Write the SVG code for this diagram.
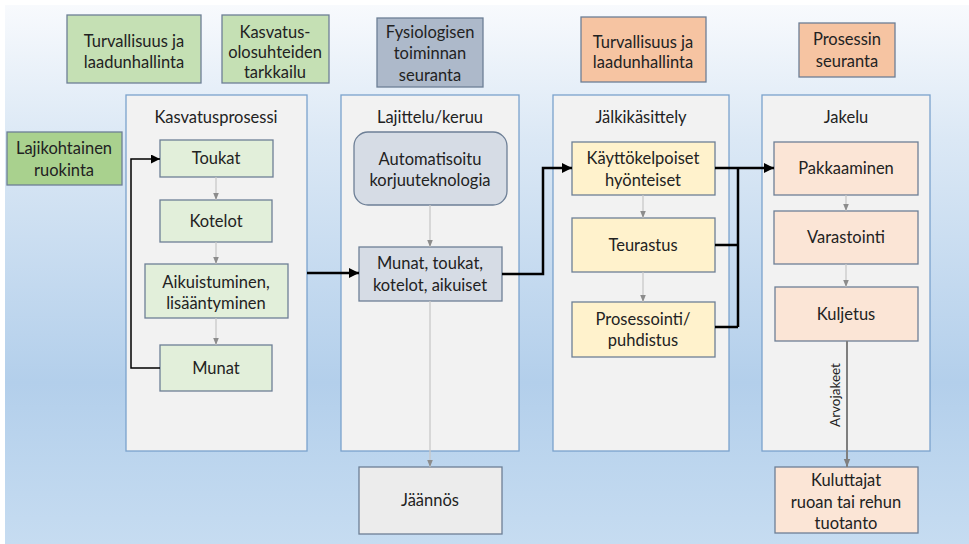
<svg xmlns="http://www.w3.org/2000/svg" width="969" height="544" viewBox="0 0 969 544">
<defs>
<linearGradient id="bg" x1="0" y1="0" x2="0" y2="1">
<stop offset="0" stop-color="#f8fafd"/>
<stop offset="0.25" stop-color="#dbe8f5"/>
<stop offset="0.7" stop-color="#b3cfeb"/>
<stop offset="1" stop-color="#c6dcf1"/>
</linearGradient>
<marker id="ab" viewBox="0 0 10 10" refX="10" refY="5" markerWidth="4" markerHeight="4" orient="auto" markerUnits="strokeWidth">
<path d="M0,0 L10,5 L0,10 z" fill="#000"/>
</marker>
<marker id="ab2" viewBox="0 0 10 10" refX="10" refY="5" markerWidth="6" markerHeight="6" orient="auto" markerUnits="strokeWidth">
<path d="M0,0 L10,5 L0,10 z" fill="#000"/>
</marker>
<marker id="ag" viewBox="0 0 10 10" refX="10" refY="5" markerWidth="7" markerHeight="7" orient="auto" markerUnits="userSpaceOnUse">
<path d="M0,1 L10,5 L0,9 z" fill="#8c8c8c"/>
</marker>
<marker id="ag2" viewBox="0 0 10 10" refX="10" refY="5" markerWidth="8" markerHeight="8" orient="auto" markerUnits="userSpaceOnUse">
<path d="M0,1 L10,5 L0,9 z" fill="#7f7f7f"/>
</marker>
</defs>
<style>
text{font-family:Lato,"Open Sans","Liberation Sans",sans-serif;font-size:16.5px;fill:#222;text-anchor:middle}
.box{stroke:#6d7f96;stroke-width:1.3}
.cont{fill:#f2f2f2;stroke:#7aa2cc;stroke-width:1.3}
.g1{fill:#c5e0b4}.g2{fill:#a9d18e}.g3{fill:#e2efda}
.bl{fill:#adb9ca}.bl2{fill:#d6dce5}
.o1{fill:#f6c4a2}.o2{fill:#fbe5d6}.y1{fill:#fff2cc}.gr{fill:#ececec}
.thick{fill:none;stroke:#000;stroke-width:2.5}
.thin{fill:none;stroke:#000;stroke-width:1.5}
.gl{fill:none;stroke:#c8c8c8;stroke-width:1.3}
</style>
<rect x="0" y="0" width="969" height="544" fill="#ffffff"/>
<rect x="5" y="5" width="964" height="539" fill="url(#bg)"/>

<g id="containers">
<rect class="cont" x="126" y="95" width="181" height="356"/>
<rect class="cont" x="341" y="95" width="178" height="356"/>
<rect class="cont" x="553" y="95" width="176" height="356"/>
<rect class="cont" x="762" y="95" width="168" height="356"/>
<text x="216" y="123">Kasvatusprosessi</text>
<text x="430" y="123">Lajittelu/keruu</text>
<text x="641" y="123">Jälkikäsittely</text>
<text x="846" y="123">Jakelu</text>
</g>

<g id="n-turv1"><rect class="box g1" x="67" y="15" width="134" height="68"/><text x="134" y="47">Turvallisuus ja</text><text x="134" y="68">laadunhallinta</text></g>
<g id="n-kasv"><rect class="box g1" x="222" y="15" width="107" height="68"/><text x="275" y="38">Kasvatus-</text><text x="275" y="58">olosuhteiden</text><text x="275" y="78">tarkkailu</text></g>
<g id="n-fys"><rect class="box bl" x="377" y="18" width="106" height="69"/><text x="430" y="38">Fysiologisen</text><text x="430" y="59">toiminnan</text><text x="430" y="81">seuranta</text></g>
<g id="n-turv2"><rect class="box o1" x="581" y="17" width="125" height="65"/><text x="643" y="48">Turvallisuus ja</text><text x="643" y="68">laadunhallinta</text></g>
<g id="n-pros"><rect class="box o1" x="799" y="23" width="96" height="54"/><text x="847" y="45">Prosessin</text><text x="847" y="67">seuranta</text></g>
<g id="n-laji"><rect class="box g2" x="7" y="132" width="115" height="53"/><text x="64" y="154">Lajikohtainen</text><text x="64" y="176">ruokinta</text></g>

<g id="n-toukat"><rect class="box g3" x="160" y="140" width="113" height="37"/><text x="216" y="164">Toukat</text></g>
<g id="n-kotelot"><rect class="box g3" x="160" y="200" width="112" height="42"/><text x="216" y="227">Kotelot</text></g>
<g id="n-aikuis"><rect class="box g3" x="145" y="264" width="143" height="54"/><text x="216" y="288">Aikuistuminen,</text><text x="216" y="309">lisääntyminen</text></g>
<g id="n-munat"><rect class="box g3" x="160" y="345" width="112" height="46"/><text x="216" y="374">Munat</text></g>

<g id="n-auto"><rect class="box bl2" x="354" y="132" width="153" height="73" rx="14"/><text x="430" y="165">Automatisoitu</text><text x="430" y="186">korjuuteknologia</text></g>
<g id="n-munat2"><rect class="box bl2" x="359" y="247" width="143" height="54"/><text x="430" y="269">Munat, toukat,</text><text x="430" y="291">kotelot, aikuiset</text></g>
<g id="n-jaannos"><rect class="box gr" x="359" y="467" width="143" height="67"/><text x="430" y="506">Jäännös</text></g>

<g id="n-kayt"><rect class="box y1" x="572" y="142" width="143" height="53"/><text x="643" y="164">Käyttökelpoiset</text><text x="643" y="186">hyönteiset</text></g>
<g id="n-teur"><rect class="box y1" x="572" y="218" width="143" height="54"/><text x="643" y="251">Teurastus</text></g>
<g id="n-proses"><rect class="box y1" x="572" y="302" width="143" height="55"/><text x="643" y="325">Prosessointi/</text><text x="643" y="346">puhdistus</text></g>

<g id="n-pakk"><rect class="box o2" x="774" y="142" width="144" height="53"/><text x="846" y="174">Pakkaaminen</text></g>
<g id="n-var"><rect class="box o2" x="774" y="211" width="144" height="53"/><text x="846" y="243">Varastointi</text></g>
<g id="n-kulj"><rect class="box o2" x="775" y="287" width="143" height="54"/><text x="846" y="320">Kuljetus</text></g>
<g id="n-kulu"><rect class="box o2" x="775" y="467" width="143" height="66"/><text x="846" y="486">Kuluttajat</text><text x="846" y="508">ruoan tai rehun</text><text x="846" y="529">tuotanto</text></g>

<g id="connectors">
<path class="gl" d="M216 177 V200" marker-end="url(#ag)"/>
<path class="gl" d="M216 242 V264" marker-end="url(#ag)"/>
<path class="gl" d="M216 318 V345" marker-end="url(#ag)"/>
<path class="gl" d="M430 205 V247" marker-end="url(#ag)"/>
<path class="gl" d="M430 301 V467" marker-end="url(#ag)"/>
<path class="gl" d="M643 195 V218" marker-end="url(#ag)"/>
<path class="gl" d="M643 272 V302" marker-end="url(#ag)"/>
<path class="gl" d="M846 195 V211" marker-end="url(#ag)"/>
<path class="gl" d="M846 264 V287" marker-end="url(#ag)"/>
<path d="M847 341 V467" fill="none" stroke="#7f7f7f" stroke-width="2" marker-end="url(#ag2)"/>
<text x="0" y="0" transform="translate(840 395) rotate(-90)" style="font-size:13.5px">Arvojakeet</text>
<path class="thin" d="M160 368 H131 V159 H160" marker-end="url(#ab2)"/>
<path class="thick" d="M307 273 H359" marker-end="url(#ab)"/>
<path class="thick" d="M502 274 H543 V168 H572" marker-end="url(#ab)"/>
<path class="thick" d="M715 168 H774" marker-end="url(#ab)"/>
<path class="thick" d="M715 245 H738 M715 327 H738 M738 168 V327"/>
</g>
</svg>
